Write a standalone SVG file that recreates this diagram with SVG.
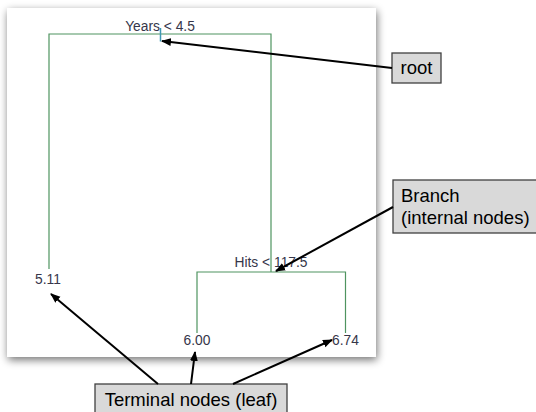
<svg xmlns="http://www.w3.org/2000/svg" width="536" height="412" viewBox="0 0 536 412">
<defs>
<filter id="sh" x="-10%" y="-10%" width="120%" height="120%">
<feGaussianBlur in="SourceAlpha" stdDeviation="4"/>
<feOffset dx="1" dy="3" result="b"/>
<feComponentTransfer><feFuncA type="linear" slope="0.55"/></feComponentTransfer>
<feMerge><feMergeNode/><feMergeNode in="SourceGraphic"/></feMerge>
</filter>
<marker id="ah" viewBox="0 0 10 10" refX="9" refY="5" markerWidth="5" markerHeight="5" orient="auto" markerUnits="strokeWidth">
<path d="M0,1 L10,5 L0,9 z" fill="#000"/>
</marker>
<style>
.tree{stroke:#4f9460;stroke-width:1.2;fill:none}
.stem{stroke:#3f98b4;stroke-width:1.5;fill:none}
.lbl{font-family:"Liberation Sans",Arial,sans-serif;font-size:13.8px;fill:#36364a}
.box{fill:#d9d9d9;stroke:#404040;stroke-width:1.3}
.btx{font-family:"Liberation Sans",Arial,sans-serif;font-size:18.5px;fill:#000}
.arr{stroke:#000;stroke-width:2;fill:none;marker-end:url(#ah)}
</style>
</defs>
<rect x="0" y="0" width="536" height="412" fill="#fff"/>
<rect x="7" y="8" width="369" height="349" fill="#fff" filter="url(#sh)"/>
<g id="tree-lines">
<path class="tree" d="M49,269 V34 H271 V272"/>
<path class="tree" d="M197,333 V272 H345.5 V333"/>
<path class="stem" d="M160.5,28 V41.5"/>
</g>
<g id="node-years"><text class="lbl" x="160" y="31" text-anchor="middle">Years &lt; 4.5</text></g>
<g id="node-hits"><text class="lbl" x="271" y="267" text-anchor="middle">Hits &lt; 117.5</text></g>
<g id="leaf-511"><text class="lbl" x="48" y="284" text-anchor="middle">5.11</text></g>
<g id="leaf-600"><text class="lbl" x="197" y="345" text-anchor="middle">6.00</text></g>
<g id="leaf-674"><text class="lbl" x="345.5" y="345" text-anchor="middle">6.74</text></g>
<g id="root-box"><rect class="box" x="392" y="53" width="49" height="30"/><text class="btx" x="416.5" y="74" text-anchor="middle">root</text></g>
<g id="branch-box"><rect class="box" x="393" y="180" width="150" height="53"/><text class="btx" x="401" y="202">Branch</text><text class="btx" x="401" y="224">(internal nodes)</text></g>
<g id="terminal-box"><rect class="box" x="95" y="384" width="192" height="35"/><text class="btx" x="191" y="406" text-anchor="middle">Terminal nodes (leaf)</text></g>
<g id="connectors">
<line class="arr" x1="392" y1="68" x2="162" y2="41"/>
<line class="arr" x1="393" y1="207" x2="276" y2="271"/>
<line class="arr" x1="158" y1="384" x2="51" y2="294"/>
<line class="arr" x1="191" y1="384" x2="195" y2="352"/>
<line class="arr" x1="233" y1="384" x2="332" y2="340"/>
</g>
</svg>
